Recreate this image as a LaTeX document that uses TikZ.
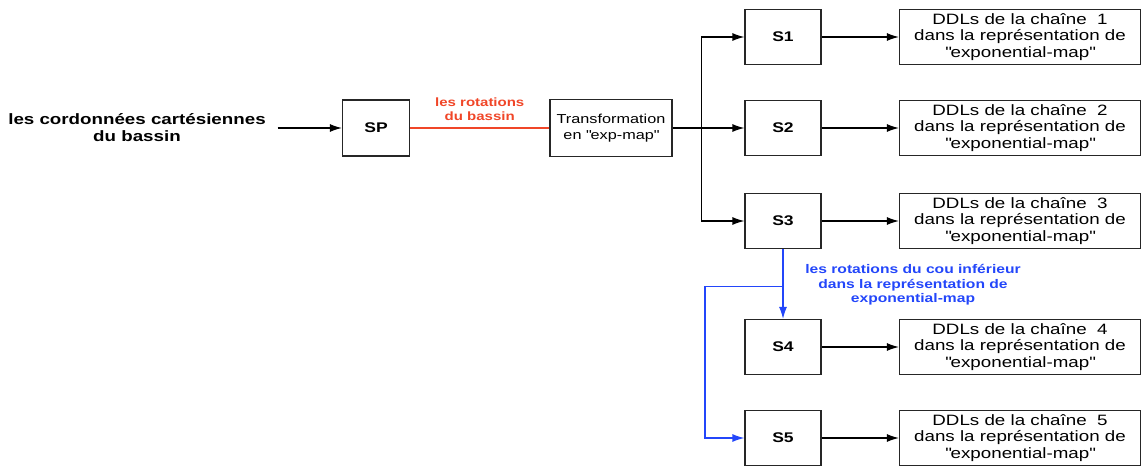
\documentclass[tikz,border=0pt]{standalone}
\usepackage{fontspec}
\setmainfont{Liberation Sans}[FakeStretch=1.25]
\usepackage{tikz}
\usetikzlibrary{positioning,arrows.meta}
\definecolor{rotred}{RGB}{240,70,40}
\definecolor{coublue}{RGB}{35,70,250}

\begin{document}
\begin{tikzpicture}[-{Latex[length=12pt,width=8pt]}, auto, node distance=2cm and 2cm, on grid, line width=1.2pt,
    blocS/.style={rectangle, draw=black!85, minimum width=76pt, minimum height=55pt, font=\fontsize{14}{16}\selectfont\bfseries},
    ddl/.style={rectangle, draw=black!85, minimum width=241pt, minimum height=55pt, inner sep=0pt, align=center, font=\fontsize{15}{16.5}\selectfont}]
			 \useasboundingbox (0,0) rectangle (1145pt,-466pt);
			 \node [align=center, font=\fontsize{15}{17}\selectfont\bfseries] (IN) at (137pt,-128pt) {les cordonnées cartésiennes\\du bassin};
			 \node [blocS, minimum width=67pt, minimum height=56pt] (SP) [right=239pt of IN] {SP};
			 \node [rectangle, draw=black!85, minimum width=122pt, minimum height=57pt, align=center, font=\fontsize{13}{16}\selectfont] (TR) [right=235pt of SP] {Transformation\\en \textquotedbl exp-map\textquotedbl};
			 \node [blocS] (S2) [right=172pt of TR] {S2};
			 \node [blocS] (S1) [above=91pt of S2] {S1};
			 \node [blocS] (S3) [below=93pt of S2] {S3};
			 \node [blocS] (S4) [below=126pt of S3] {S4};
			 \node [blocS] (S5) [below=91pt of S4] {S5};
			 \node [ddl] (D1) [right=237pt of S1] {DDLs de la chaîne~ 1\\dans la représentation de\\\textquotedbl exponential-map\textquotedbl};
			 \node [ddl] (D2) [right=237pt of S2] {DDLs de la chaîne~ 2\\dans la représentation de\\\textquotedbl exponential-map\textquotedbl};
			 \node [ddl] (D3) [right=237pt of S3] {DDLs de la chaîne~ 3\\dans la représentation de\\\textquotedbl exponential-map\textquotedbl};
			 \node [ddl] (D4) [right=237pt of S4] {DDLs de la chaîne~ 4\\dans la représentation de\\\textquotedbl exponential-map\textquotedbl};
			 \node [ddl] (D5) [right=237pt of S5] {DDLs de la chaîne~ 5\\dans la représentation de\\\textquotedbl exponential-map\textquotedbl};
			 \node [align=center, text=coublue, font=\fontsize{12.5}{14.5}\selectfont\bfseries] (ROTCOU) [below right=64pt and 130pt of S3] {les rotations du cou inférieur\\dans la représentation de\\exponential-map};
			 \coordinate (SPLIT) at ([xshift=29pt]TR.east);
			 \coordinate (KNEE) at ([yshift=-37pt]S3.south);
			 \path (IN) edge [shorten <=8pt] (SP);
			 \path (SP) edge [-, rotred] node [above=3pt, align=center, text=rotred, font=\fontsize{12}{14}\selectfont\bfseries] {les rotations\\du bassin} (TR);
			 \path (TR) edge (S2);
			 \draw (SPLIT) |- (S1);
			 \draw (SPLIT) |- (S3);
			 \path (S1) edge (D1);
			 \path (S2) edge (D2);
			 \path (S3) edge (D3);
			 \path (S4) edge (D4);
			 \path (S5) edge (D5);
			 \draw [coublue] (S3) -- (S4);
			 \draw [coublue] (KNEE) -- ++(-78pt,0) |- (S5);
		\end{tikzpicture}
\end{document}
